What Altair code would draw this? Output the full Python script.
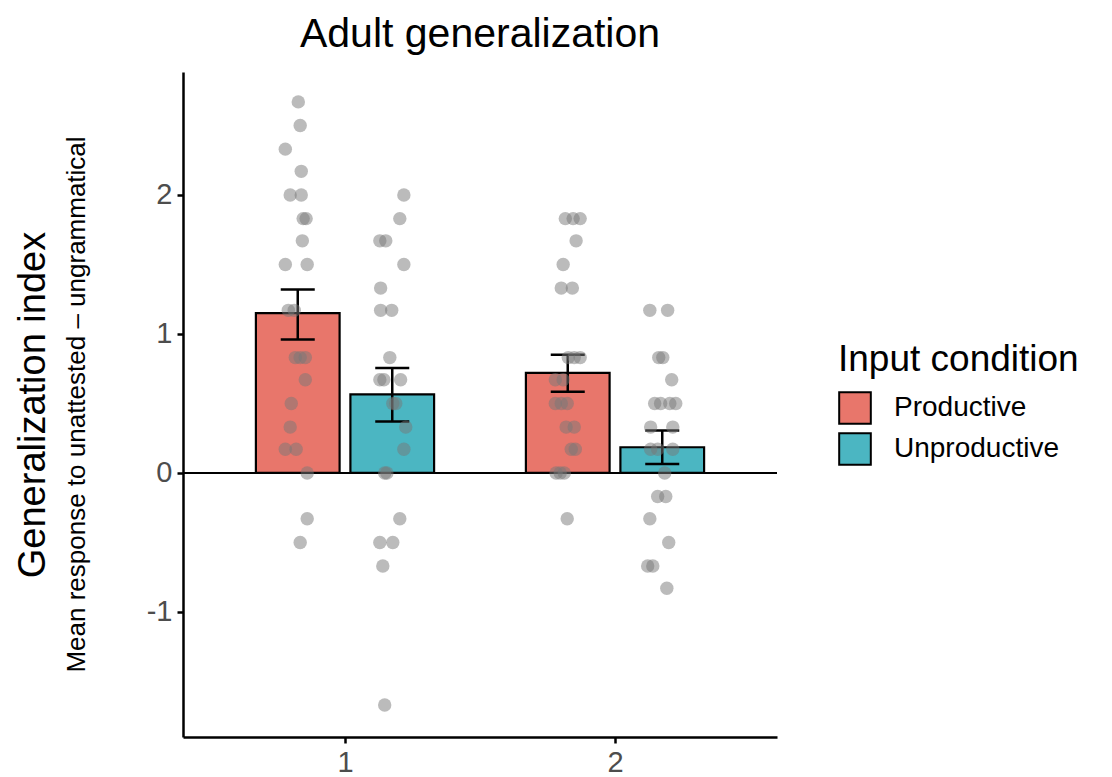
import altair as alt
import pandas as pd

FONT = "Liberation Sans"

# ---- summary (bar heights and standard-error bounds) ----
groups = [1, 1, 2, 2]
conditions = ["Productive", "Unproductive", "Productive", "Unproductive"]
means = [1.15, 0.565, 0.72, 0.185]
err_low = [0.96, 0.37, 0.585, 0.065]
err_high = [1.32, 0.755, 0.85, 0.305]

# ---- individual participants (value, horizontal jitter) ----
g1_prod_vals = [2.67, 2.5, 2.33, 2.17, 2.0, 2.0, 1.83, 1.83, 1.67, 1.5, 1.5, 1.17,
                1.17, 0.83, 0.83, 0.83, 0.67, 0.5, 0.33, 0.17, 0.17, 0.0, -0.33, -0.5]
g1_prod_jit = [0.002, 0.009, -0.046, 0.013, -0.028, 0.013, 0.020, 0.031, 0.017, -0.046, 0.035, -0.035,
               -0.013, -0.009, 0.009, 0.028, 0.028, -0.024, -0.028, -0.046, -0.006, 0.035, 0.035, 0.009]

g1_unprod_vals = [2.0, 1.83, 1.67, 1.67, 1.5, 1.33, 1.17, 1.17, 0.83, 0.67, 0.67, 0.67,
                  0.5, 0.5, 0.33, 0.17, 0.0, 0.0, -0.33, -0.5, -0.5, -0.67, -1.67]
g1_unprod_jit = [0.043, 0.028, -0.046, -0.024, 0.043, -0.043, -0.043, -0.002, -0.009, -0.046, -0.031, 0.031,
                 0.002, 0.013, 0.050, 0.043, -0.028, -0.020, 0.028, -0.046, 0.002, -0.035, -0.028]

g2_prod_vals = [1.83, 1.83, 1.83, 1.67, 1.5, 1.33, 1.33, 0.83, 0.83, 0.83, 0.67, 0.67,
                0.5, 0.5, 0.5, 0.33, 0.33, 0.17, 0.17, 0.0, 0.0, 0.0, -0.33]
g2_prod_jit = [-0.009, 0.020, 0.046, 0.031, -0.017, -0.024, 0.017, 0.002, 0.024, 0.046, -0.046, -0.017,
               -0.046, -0.024, -0.002, -0.006, 0.024, 0.013, 0.028, -0.043, -0.028, -0.013, -0.002]

g2_unprod_vals = [1.17, 1.17, 0.83, 0.83, 0.67, 0.5, 0.5, 0.5, 0.5, 0.33, 0.33, 0.17,
                  0.17, 0.17, 0.0, -0.17, -0.17, -0.33, -0.5, -0.67, -0.67, -0.83]
g2_unprod_jit = [-0.046, 0.020, -0.013, 0.002, 0.035, -0.028, -0.006, 0.028, 0.050, -0.043, 0.039, -0.043,
                 -0.017, 0.039, 0.009, -0.017, 0.013, -0.046, 0.024, -0.054, -0.035, 0.017]

summary = pd.DataFrame({"group": groups, "cond": conditions, "mean": means,
                        "lo": err_low, "hi": err_high})

rows = []
for g, c, vals, jit in [(1, "Productive", g1_prod_vals, g1_prod_jit),
                        (1, "Unproductive", g1_unprod_vals, g1_unprod_jit),
                        (2, "Productive", g2_prod_vals, g2_prod_jit),
                        (2, "Unproductive", g2_unprod_vals, g2_unprod_jit)]:
    for v, j in zip(vals, jit):
        rows.append({"group": g, "cond": c, "value": v, "jit": j})
points = pd.DataFrame(rows)

DODGE = "datum.group + (datum.cond == 'Productive' ? -0.175 : 0.175)"

xscale = alt.Scale(domain=[0.4, 2.6], nice=False, zero=False)
yscale = alt.Scale(domain=[-1.9, 2.885], nice=False, zero=False)
xaxis = alt.Axis(values=[1, 2], labelExpr="'' + datum.value", title=None)
yaxis = alt.Axis(values=[-1, 0, 1, 2], labelExpr="'' + datum.value",
                 title="Generalization index",
                 titleX=-150, titleY=332.5, titleAngle=270,
                 titleBaseline="middle", titleAlign="center")

color_scale = alt.Scale(domain=["Productive", "Unproductive"], range=["#E8766B", "#4BB6C2"])

bars = alt.Chart(summary).transform_calculate(
    xc=DODGE, xl="datum.xc - 0.155", xr="datum.xc + 0.155", z="0"
).mark_bar(stroke="black", strokeWidth=2.2, opacity=1).encode(
    x=alt.X("xl:Q", scale=xscale, axis=xaxis),
    x2="xr:Q",
    y=alt.Y("mean:Q", scale=yscale, axis=yaxis),
    y2="z:Q",
    color=alt.Color("cond:N", scale=color_scale, legend=alt.Legend(
        title="Input condition", orient="none", legendX=655, legendY=270,
        symbolType="square", symbolSize=1000, symbolStrokeColor="black",
        symbolStrokeWidth=2, symbolOpacity=1, titleFontSize=37, titleFont=FONT,
        titleFontWeight="normal", titleColor="black", titleLimit=500,
        labelFontSize=28, labelFont=FONT, labelColor="black", labelLimit=400,
        labelOffset=22, rowPadding=1, titlePadding=12)),
)

zero = alt.Chart(summary).mark_rule(color="black", strokeWidth=2).encode(
    y=alt.datum(0, scale=yscale)
)

err_v = alt.Chart(summary).transform_calculate(xc=DODGE).mark_rule(
    color="black", strokeWidth=2.5
).encode(
    x=alt.X("xc:Q", scale=xscale, axis=xaxis),
    y=alt.Y("lo:Q", scale=yscale, axis=yaxis),
    y2="hi:Q",
)

caps = alt.Chart(summary).transform_calculate(
    xc=DODGE, cl="datum.xc - 0.063", cr="datum.xc + 0.063"
).transform_fold(["lo", "hi"], as_=["which", "yv"]).mark_rule(
    color="black", strokeWidth=2.5
).encode(
    x=alt.X("cl:Q", scale=xscale, axis=xaxis),
    x2="cr:Q",
    y=alt.Y("yv:Q", scale=yscale, axis=yaxis),
)

pts = alt.Chart(points).transform_calculate(
    xp=DODGE + " + datum.jit"
).mark_circle(size=180, color="#777777", opacity=0.5).encode(
    x=alt.X("xp:Q", scale=xscale, axis=xaxis),
    y=alt.Y("value:Q", scale=yscale, axis=yaxis),
)

subtitle = alt.Chart(pd.DataFrame({"t": ["Mean response to unattested \u2013 ungrammatical"]})).mark_text(
    angle=270, fontSize=26, font=FONT, color="black", align="center", baseline="middle"
).encode(
    x=alt.value(-106), y=alt.value(332.5), text="t:N"
)

chart = alt.layer(bars, zero, err_v, caps, pts, subtitle).properties(
    width=594, height=665,
    title=alt.Title("Adult generalization", fontSize=41, font=FONT, fontWeight="normal",
                    anchor="middle", offset=16, color="black"),
    autosize=alt.AutoSizeParams(type="none"),
    padding={"left": 175, "top": 64, "right": 326, "bottom": 40},
).configure_view(stroke=None).configure_axis(
    labelFont=FONT, labelFontSize=29, labelColor="#4d4d4d",
    titleFont=FONT, titleFontSize=38, titleFontWeight="normal", titleColor="black",
    domainColor="black", domainWidth=2.5, tickColor="black", tickWidth=2.5,
    tickSize=6, labelPadding=5, grid=False,
)

chart.save("out.html", embed_options={"renderer": "svg", "actions": False})
